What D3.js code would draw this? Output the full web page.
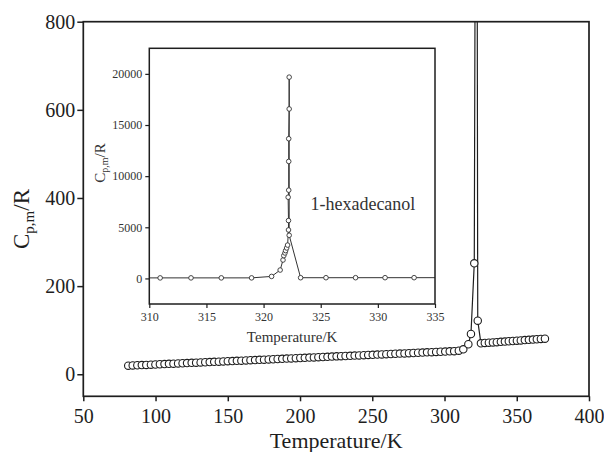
<!DOCTYPE html>
<html><head><meta charset="utf-8">
<script src="https://cdn.jsdelivr.net/npm/d3@7"></script>
<style>body{margin:0;background:#fff}svg{display:block}</style>
</head><body><svg id="c" width="604" height="452"></svg>
<script>
// ---- main chart data (Temperature/K, Cp,m/R) ----
const mainTemps = [81.1,84.2,87.4,90.5,93.6,96.8,99.9,103.0,106.2,109.3,112.4,115.6,118.7,121.8,125.0,128.1,131.2,134.4,137.5,140.6,
  143.8,146.9,150.0,153.2,156.3,159.4,162.6,165.7,168.9,172.0,175.1,178.3,181.4,184.5,187.7,190.8,193.9,197.1,200.2,203.3,
  206.5,209.6,212.7,215.9,219.0,222.1,225.3,228.4,231.5,234.7,237.8,240.9,244.1,247.2,250.3,253.5,256.6,259.7,262.9,266.0,
  269.1,272.3,275.4,278.5,281.7,284.8,287.9,291.1,294.2,297.3,300.5,303.6,306.7,309.9,313.0,
  316.5,318.3,320.6,322.1,323.0,325.2,
  327.9,330.7,333.5,336.2,339.0,341.8,344.5,347.3,350.1,352.8,355.6,358.4,361.2,363.9,366.7,369.5];
const mainCp = [19.5,20.0,20.4,20.9,21.3,21.8,22.2,22.7,23.1,23.6,24.1,24.5,25.0,25.4,25.9,26.4,26.8,27.3,27.7,28.2,
  28.6,29.1,29.6,30.0,30.5,30.9,31.4,31.9,32.3,32.8,33.2,33.7,34.1,34.6,35.1,35.5,36.0,36.4,36.9,37.4,
  37.8,38.3,38.7,39.2,39.6,40.1,40.6,41.0,41.5,41.9,42.4,42.8,43.3,43.8,44.2,44.7,45.1,45.6,46.0,46.5,
  47.0,47.4,47.9,48.3,48.8,49.3,49.7,50.2,50.6,51.1,51.5,52.0,52.5,53.5,56.7,
  68.1,91.4,251.8,2000,121.6,70.3,
  71.0,71.6,72.3,72.9,73.6,74.2,74.9,75.5,76.2,76.8,77.5,78.1,78.8,79.5,80.1,80.8];
const mainXTicks = [50,100,150,200,250,300,350,400];
const mainYTicks = [0,200,400,600,800];

// ---- inset data (around the transition) ----
const insetTemps = [308.3,310.95,313.65,316.3,318.95,320.7,321.45,321.7,321.77,321.87,321.93,322.02,322.1,
  322.18,322.18,322.15,322.2,322.2,322.2,322.24,322.24,322.24,323.24,325.46,328.05,330.63,333.17,335.8];
const insetCp = [52,53,54,54,55,196,820,1800,2230,2490,2720,2980,3260,
  4740,5660,7940,8630,11440,13660,16570,19680,4220,70,71,72,73,74,75];
const insetXTicks = [310,315,320,325,330,335];
const insetYTicks = [0,5000,10000,15000,20000];
const insetLabel = "1-hexadecanol";

const FONT = "Liberation Serif, Times New Roman, serif";
const INK = "#1e1e1e";
const svg = d3.select("#c");

// ================= MAIN =================
const M = {l:83.3, r:589, t:21.7, b:396.3};
const x = d3.scaleLinear().domain([50,400]).range([M.l,M.r]);
const y = d3.scaleLinear().domain([-50,800]).range([M.b,M.t]);

svg.append("defs").append("clipPath").attr("id","mclip")
  .append("rect").attr("x",M.l).attr("y",M.t).attr("width",M.r-M.l).attr("height",M.b-M.t);

const main = svg.append("g");
const mpts = mainTemps.map((t,i)=>[t,mainCp[i]]);

const gx = main.append("g").attr("transform",`translate(0,${M.b})`)
  .call(d3.axisBottom(x).tickValues(mainXTicks).tickSize(5).tickPadding(8).tickFormat(d3.format("d")));
const gy = main.append("g").attr("transform",`translate(${M.l},0)`)
  .call(d3.axisLeft(y).tickValues(mainYTicks).tickSize(6).tickPadding(2).tickFormat(d3.format("d")));
[gx,gy].forEach(g=>{
  g.attr("font-family",FONT).attr("font-size",20);
  g.select(".domain").remove();
  g.selectAll("line").attr("stroke",INK).attr("stroke-width",1.5);
  g.selectAll("text").attr("fill",INK).attr("font-family",FONT).attr("font-size",20);
});

main.append("rect").attr("x",M.l).attr("y",M.t).attr("width",M.r-M.l).attr("height",M.b-M.t)
  .attr("fill","none").attr("stroke",INK).attr("stroke-width",1.7);

const mdata = main.append("g").attr("clip-path","url(#mclip)");
mdata.append("path").datum(mpts)
  .attr("d",d3.line().x(d=>x(d[0])).y(d=>y(d[1])))
  .attr("fill","none").attr("stroke",INK).attr("stroke-width",1.2);
mdata.selectAll("circle").data(mpts).join("circle")
  .attr("cx",d=>x(d[0])).attr("cy",d=>y(d[1])).attr("r",3.7)
  .attr("fill","#fff").attr("stroke",INK).attr("stroke-width",1.1);

main.append("text").attr("x",(M.l+M.r)/2).attr("y",448).attr("text-anchor","middle")
  .attr("fill",INK).attr("font-family",FONT).attr("font-size",22).text("Temperature/K");

const yt = main.append("text").attr("transform","translate(29,219) rotate(-90)").attr("text-anchor","middle")
  .attr("fill",INK).attr("font-family",FONT).attr("font-size",23);
yt.append("tspan").text("C");
yt.append("tspan").attr("dy",5).attr("font-size",15).text("p,m");
yt.append("tspan").attr("dy",-5).text("/R");

// ================= INSET =================
const I = {l:149.3, r:435, t:48.3, b:304};
const xi = d3.scaleLinear().domain([310,335]).range([I.l,I.r]);
const yi = d3.scaleLinear().domain([-2500,22500]).range([I.b,I.t]);

svg.select("defs").append("clipPath").attr("id","iclip")
  .append("rect").attr("x",I.l).attr("y",I.t).attr("width",I.r-I.l).attr("height",I.b-I.t);

const ins = svg.append("g");
ins.append("rect").attr("x",I.l).attr("y",I.t).attr("width",I.r-I.l).attr("height",I.b-I.t).attr("fill","#fff");

const ipts = insetTemps.map((t,i)=>[t,insetCp[i]]);
const idata = ins.append("g").attr("clip-path","url(#iclip)");
idata.append("path").datum(ipts)
  .attr("d",d3.line().x(d=>xi(d[0])).y(d=>yi(d[1])))
  .attr("fill","none").attr("stroke","#333").attr("stroke-width",1);
idata.selectAll("circle").data(ipts).join("circle")
  .attr("cx",d=>xi(d[0])).attr("cy",d=>yi(d[1])).attr("r",2.3)
  .attr("fill","#fff").attr("stroke","#333").attr("stroke-width",0.9);

const gxi = ins.append("g").attr("transform",`translate(0,${I.b})`)
  .call(d3.axisBottom(xi).tickValues(insetXTicks).tickSize(4).tickPadding(4).tickFormat(d3.format("d")));
const gyi = ins.append("g").attr("transform",`translate(${I.l},0)`)
  .call(d3.axisLeft(yi).tickValues(insetYTicks).tickSize(4).tickPadding(3).tickFormat(d3.format("d")));
[gxi,gyi].forEach(g=>{
  g.attr("font-family",FONT).attr("font-size",12);
  g.select(".domain").remove();
  g.selectAll("line").attr("stroke",INK).attr("stroke-width",1.2);
  g.selectAll("text").attr("fill","#333").attr("font-family",FONT).attr("font-size",12);
});
ins.append("rect").attr("x",I.l).attr("y",I.t).attr("width",I.r-I.l).attr("height",I.b-I.t)
  .attr("fill","none").attr("stroke",INK).attr("stroke-width",1.5);

ins.append("text").attr("x",(I.l+I.r)/2).attr("y",342).attr("text-anchor","middle")
  .attr("fill","#333").attr("font-family",FONT).attr("font-size",15).text("Temperature/K");

const yti = ins.append("text").attr("transform","translate(105,163) rotate(-90)").attr("text-anchor","middle")
  .attr("fill","#333").attr("font-family",FONT).attr("font-size",15);
yti.append("tspan").text("C");
yti.append("tspan").attr("dy",3).attr("font-size",10).text("p,m");
yti.append("tspan").attr("dy",-3).text("/R");

ins.append("text").attr("x",xi(324.1)).attr("y",210)
  .attr("fill","#333").attr("font-family",FONT).attr("font-size",18).text(insetLabel);
</script>
</body></html>
